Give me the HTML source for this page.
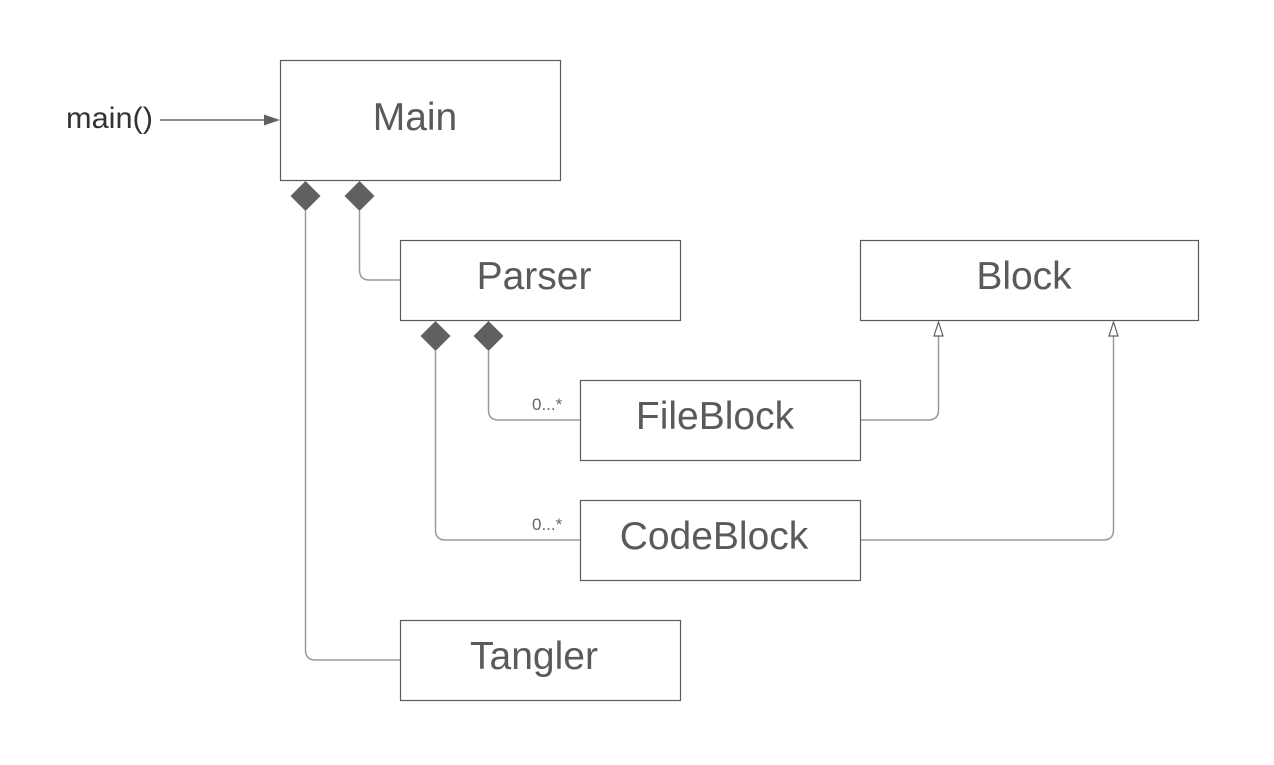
<!DOCTYPE html>
<html><head><style>body{margin:0;background:#fff}svg{display:block}</style></head><body>
<svg width="1274" height="765" xmlns="http://www.w3.org/2000/svg" font-family="Liberation Sans, sans-serif">
<rect width="1274" height="765" fill="#fff"/>
<g fill="#fff" stroke="#5a5a5a" stroke-width="1.2">
<rect x="280.5" y="60.5" width="280" height="120"/>
<rect x="400.5" y="240.5" width="280" height="80"/>
<rect x="860.5" y="240.5" width="338" height="80"/>
<rect x="580.5" y="380.5" width="280" height="80"/>
<rect x="580.5" y="500.5" width="280" height="80"/>
<rect x="400.5" y="620.5" width="280" height="80"/>
</g>
<g fill="none" stroke="#9a9a9a" stroke-width="1.5">
<path d="M305.5 211 V650 Q305.5 660 315.5 660 H400"/>
<path d="M359.5 211 V270 Q359.5 280 369.5 280 H400"/>
<path d="M488.5 351 V410 Q488.5 420 498.5 420 H580"/>
<path d="M435.5 351 V530 Q435.5 540 445.5 540 H580"/>
<path d="M861 420 H928 Q938.5 420 938.5 410 V336"/>
<path d="M861 540 H1103 Q1113.5 540 1113.5 530 V336"/>
<path d="M160 120 H266" stroke="#666"/>
</g>
<g fill="#606060">
<path d="M305.5 181 L320.5 196 L305.5 211 L290.5 196Z"/>
<path d="M359.5 181 L374.5 196 L359.5 211 L344.5 196Z"/>
<path d="M435.5 321 L450.5 336 L435.5 351 L420.5 336Z"/>
<path d="M488.5 321 L503.5 336 L488.5 351 L473.5 336Z"/>
<path d="M280 120 L264 114.5 L264 125.5Z"/>
</g>
<g fill="#fff" stroke="#606060" stroke-width="1.2">
<path d="M938.5 322 L943 336 L934 336Z"/>
<path d="M1113.5 322 L1118 336 L1109 336Z"/>
</g>
<g fill="#5a5a5a" font-size="39" text-anchor="middle">
<text x="415" y="130">Main</text>
<text x="534" y="289">Parser</text>
<text x="1024" y="289">Block</text>
<text x="715" y="429">FileBlock</text>
<text x="714" y="549">CodeBlock</text>
<text x="534" y="669">Tangler</text>
</g>
<text x="66" y="128" font-size="30" fill="#333" textLength="87" lengthAdjust="spacingAndGlyphs">main()</text>
<g font-size="17" fill="#666">
<text x="532" y="410">0...*</text>
<text x="532" y="530">0...*</text>
</g>
</svg>
</body></html>
